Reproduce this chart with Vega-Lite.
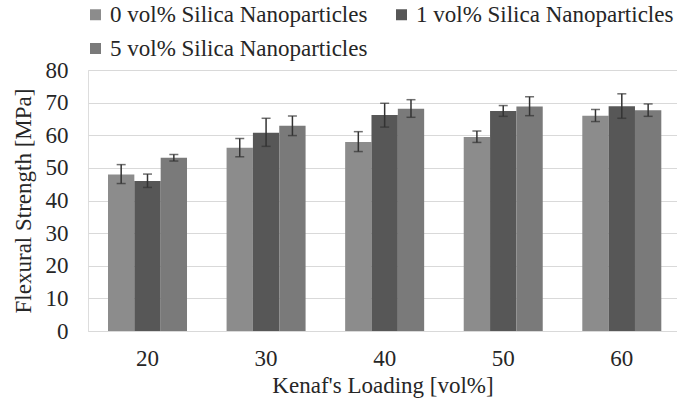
{
  "$schema": "https://vega.github.io/schema/vega-lite/v6.json",
  "autosize": {"type": "none"},
  "width": 589,
  "height": 261,
  "padding": {"left": 88, "top": 70, "right": 0, "bottom": 69},
  "background": "white",
  "config": {
    "style": {"guide-label": {"font": "Liberation Serif", "fontSize": 23, "fill": "#262626"}, "guide-title": {"font": "Liberation Serif", "fontSize": 23, "fill": "#262626", "fontWeight": "normal"}},
    "legend": {"labelFont": "Liberation Serif", "labelFontSize": 23}
  },
  "data": {
    "values": [
      {"loading": "20", "series": "0 vol% Silica Nanoparticles", "mean": 48.0, "lo": 45.2, "hi": 51.0},
      {"loading": "20", "series": "1 vol% Silica Nanoparticles", "mean": 46.0, "lo": 44.0, "hi": 48.1},
      {"loading": "20", "series": "5 vol% Silica Nanoparticles", "mean": 53.1, "lo": 52.1, "hi": 54.1},
      {"loading": "30", "series": "0 vol% Silica Nanoparticles", "mean": 56.2, "lo": 53.4, "hi": 59.0},
      {"loading": "30", "series": "1 vol% Silica Nanoparticles", "mean": 60.8, "lo": 56.6, "hi": 65.2},
      {"loading": "30", "series": "5 vol% Silica Nanoparticles", "mean": 62.9, "lo": 59.9, "hi": 65.9},
      {"loading": "40", "series": "0 vol% Silica Nanoparticles", "mean": 57.9, "lo": 55.0, "hi": 61.1},
      {"loading": "40", "series": "1 vol% Silica Nanoparticles", "mean": 66.2, "lo": 62.5, "hi": 69.8},
      {"loading": "40", "series": "5 vol% Silica Nanoparticles", "mean": 68.1, "lo": 65.5, "hi": 70.9},
      {"loading": "50", "series": "0 vol% Silica Nanoparticles", "mean": 59.5, "lo": 57.8, "hi": 61.3},
      {"loading": "50", "series": "1 vol% Silica Nanoparticles", "mean": 67.4, "lo": 65.8, "hi": 69.1},
      {"loading": "50", "series": "5 vol% Silica Nanoparticles", "mean": 68.8, "lo": 66.0, "hi": 71.8},
      {"loading": "60", "series": "0 vol% Silica Nanoparticles", "mean": 66.0, "lo": 64.2, "hi": 67.9},
      {"loading": "60", "series": "1 vol% Silica Nanoparticles", "mean": 68.9, "lo": 65.2, "hi": 72.7},
      {"loading": "60", "series": "5 vol% Silica Nanoparticles", "mean": 67.7, "lo": 65.8, "hi": 69.6}
    ]
  },
  "layer": [
    {
      "mark": {"type": "bar"},
      "encoding": {
        "x": {
          "field": "loading", "type": "ordinal",
          "scale": {"paddingInner": 0.3337, "paddingOuter": 0.1505, "align": 0.5604},
          "axis": {"title": "Kenaf's Loading [vol%]", "labelFont": "Liberation Serif", "labelFontSize": 23, "labelColor": "#262626", "titleFont": "Liberation Serif", "titleFontSize": 23, "titleColor": "#262626", "titleFontWeight": "normal", "labelAngle": 0, "ticks": false, "labelPadding": 16, "titlePadding": 4, "domainColor": "#d9d9d9", "domainWidth": 1, "grid": false}
        },
        "xOffset": {"field": "series", "type": "nominal", "scale": {"paddingInner": 0, "paddingOuter": 0}},
        "y": {
          "field": "mean", "type": "quantitative",
          "scale": {"domain": [0, 80], "nice": false},
          "axis": {"title": "Flexural Strength [MPa]", "labelFont": "Liberation Serif", "labelFontSize": 23, "labelColor": "#262626", "titleFont": "Liberation Serif", "titleFontSize": 23, "titleColor": "#262626", "titleFontWeight": "normal", "tickCount": 8, "labelOverlap": false, "ticks": false, "domain": false, "labelPadding": 20, "titlePadding": 10, "gridColor": "#d9d9d9", "gridWidth": 1}
        },
        "color": {
          "field": "series", "type": "nominal",
          "scale": {"range": ["#8c8c8c", "#575757", "#7a7a7a"]},
          "legend": {"title": null, "orient": "none", "legendX": -4, "legendY": -67, "direction": "horizontal", "columns": 2, "labelFont": "Liberation Serif", "labelFontSize": 23, "labelColor": "#262626", "symbolType": "square", "symbolSize": 121, "symbolStrokeWidth": 0, "labelOffset": 3, "columnPadding": 22, "rowPadding": 10, "labelLimit": 400}
        }
      }
    },
    {
      "mark": {"type": "rule", "color": "#333333", "strokeWidth": 1.5},
      "encoding": {
        "x": {"field": "loading", "type": "ordinal"},
        "xOffset": {"field": "series", "type": "nominal"},
        "y": {"field": "lo", "type": "quantitative"},
        "y2": {"field": "hi"}
      }
    },
    {
      "mark": {"type": "tick", "color": "#333333", "thickness": 1.5, "size": 9, "orient": "horizontal"},
      "encoding": {
        "x": {"field": "loading", "type": "ordinal"},
        "xOffset": {"field": "series", "type": "nominal"},
        "y": {"field": "lo", "type": "quantitative"}
      }
    },
    {
      "mark": {"type": "tick", "color": "#333333", "thickness": 1.5, "size": 9, "orient": "horizontal"},
      "encoding": {
        "x": {"field": "loading", "type": "ordinal"},
        "xOffset": {"field": "series", "type": "nominal"},
        "y": {"field": "hi", "type": "quantitative"}
      }
    }
  ]
}
